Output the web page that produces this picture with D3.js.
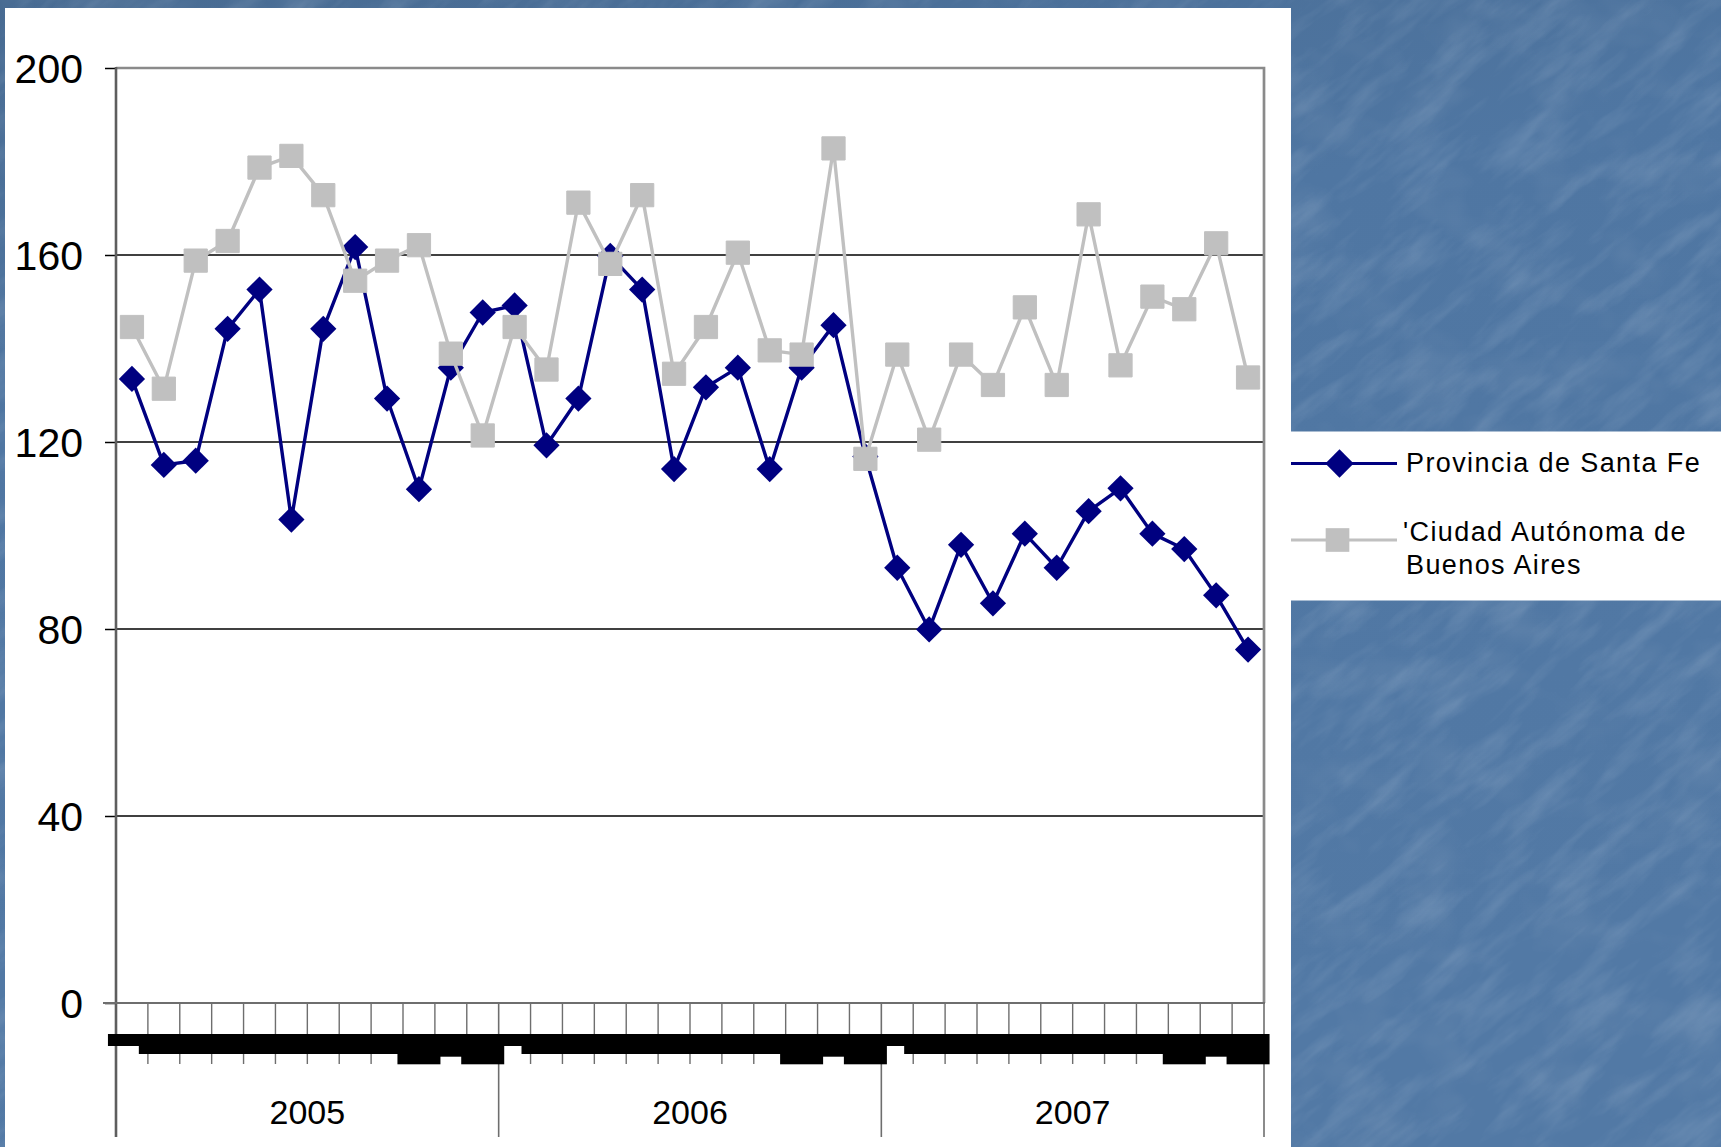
<!DOCTYPE html>
<html>
<head>
<meta charset="utf-8">
<script src="https://cdn.jsdelivr.net/npm/d3@7"></script>
<style>
  html, body { margin: 0; padding: 0; background: #4f75a0; }
  svg { display: block; }
  text { font-family: "Liberation Sans", Arial, sans-serif; fill: #000; }
</style>
</head>
<body>
<svg id="chart" width="1726" height="1147"></svg>
<script>
// Monthly series, January 2005 – December 2007
const years = ["2005", "2006", "2007"];
const monthNames = ["Ene", "Feb", "Mar", "Abr", "May", "Jun", "Jul", "Ago", "Sep", "Oct", "Nov", "Dic"];
const categories = years.flatMap(y => monthNames.map(m => `${m} ${y}`));

const santaFe = [
  133.5, 115.1, 116.0, 144.2, 152.6, 103.4, 144.2, 161.7, 129.3, 109.9, 135.9, 147.7,
  149.2, 119.3, 129.3, 159.8, 152.6, 114.2, 131.7, 135.9, 114.2, 135.9, 145.0, 116.9,
  93.1, 79.9, 98.0, 85.5, 100.4, 93.1, 105.2, 110.1, 100.4, 97.1, 87.2, 75.6
];
const buenosAires = [
  144.6, 131.4, 158.8, 163.0, 178.7, 181.2, 172.8, 154.5, 158.8, 162.1, 138.9, 121.4,
  144.6, 135.5, 171.2, 158.1, 172.8, 134.6, 144.6, 160.5, 139.6, 138.7, 182.8, 116.4,
  138.7, 120.5, 138.7, 132.2, 148.8, 132.2, 168.7, 136.4, 151.1, 148.4, 162.5, 133.8
];
const yTicks = [0, 40, 80, 120, 160, 200];
const seriesNames = ["Provincia de Santa Fe", ["'Ciudad Autónoma de", "Buenos Aires"]];

const W = 1726, H = 1147;
const svg = d3.select("#chart");
const defs = svg.append("defs");

// ---- textured blue backdrop ----
const grad = defs.append("linearGradient").attr("id", "bgGrad")
  .attr("x1", 0).attr("y1", 0).attr("x2", 0.3).attr("y2", 1);
grad.append("stop").attr("offset", 0).attr("stop-color", "#486b92");
grad.append("stop").attr("offset", 0.35).attr("stop-color", "#4f76a2");
grad.append("stop").attr("offset", 1).attr("stop-color", "#5279a5");

const tex = defs.append("filter").attr("id", "streaks")
  .attr("x", 0).attr("y", 0).attr("width", 1).attr("height", 1);
tex.append("feTurbulence").attr("type", "fractalNoise")
  .attr("baseFrequency", "0.05 0.012").attr("numOctaves", 4).attr("seed", 11).attr("result", "n");
tex.append("feColorMatrix").attr("in", "n").attr("type", "matrix")
  .attr("values", "0 0 0 0 0.8  0 0 0 0 0.87  0 0 0 0 0.95  1.8 0 0 0 -0.8");

const tex2 = defs.append("filter").attr("id", "mottle")
  .attr("x", 0).attr("y", 0).attr("width", 1).attr("height", 1);
tex2.append("feTurbulence").attr("type", "fractalNoise")
  .attr("baseFrequency", "0.015 0.02").attr("numOctaves", 3).attr("seed", 3).attr("result", "n");
tex2.append("feColorMatrix").attr("in", "n").attr("type", "matrix")
  .attr("values", "0 0 0 0 0.25  0 0 0 0 0.36  0 0 0 0 0.52  1.6 0 0 0 -0.75");

svg.append("rect").attr("width", W).attr("height", H).attr("fill", "url(#bgGrad)");
defs.append("clipPath").attr("id", "bgClip").append("rect").attr("width", W).attr("height", H);
const texG = svg.append("g").attr("clip-path", "url(#bgClip)");
texG.append("rect").attr("x", -200).attr("y", -200).attr("width", W + 400).attr("height", H + 400)
  .attr("filter", "url(#mottle)").attr("opacity", 0.3);
texG.append("g").attr("transform", `rotate(50 ${W / 2} ${H / 2})`)
  .append("rect").attr("x", -700).attr("y", -700).attr("width", W + 1400).attr("height", H + 1400)
  .attr("filter", "url(#streaks)").attr("opacity", 0.16);

// white chart panel, right edge strip and legend box
svg.append("rect").attr("x", 5).attr("y", 8).attr("width", 1286).attr("height", H - 8).attr("fill", "#fff");
svg.append("rect").attr("x", 1721).attr("y", 0).attr("width", 5).attr("height", H).attr("fill", "#fff");
svg.append("rect").attr("x", 1291).attr("y", 431.5).attr("width", 430).attr("height", 169).attr("fill", "#fff");

// ---- scales ----
const plot = { left: 116, right: 1264, top: 68, bottom: 1003 };
const x = d3.scaleBand().domain(categories).range([plot.left, plot.right]).paddingInner(0).paddingOuter(0);
const y = d3.scaleLinear().domain([0, 200]).range([plot.bottom, plot.top]);
const cx = c => x(c) + x.bandwidth() / 2;

// gridlines
svg.append("g").selectAll("line").data(yTicks.filter(t => t > 0 && t < 200)).join("line")
  .attr("x1", plot.left).attr("x2", plot.right)
  .attr("y1", d => y(d)).attr("y2", d => y(d))
  .attr("stroke", "#000").attr("stroke-width", 1.3);

// plot frame (top and right)
svg.append("path")
  .attr("d", `M${plot.left},${y(200)}H${plot.right}V${plot.bottom}`)
  .attr("fill", "none").attr("stroke", "#8a8a8a").attr("stroke-width", 2.7);

// y axis
const yAxis = d3.axisLeft(y).tickValues(yTicks).tickSize(11).tickPadding(22).tickFormat(d3.format("d"));
const yG = svg.append("g").attr("transform", `translate(${plot.left},0)`).call(yAxis);
yG.select(".domain").remove();
yG.selectAll(".tick line").attr("stroke", "#000").attr("stroke-width", 1.5);
yG.selectAll(".tick text").attr("font-size", 41).attr("dy", "0.35em")
  .attr("font-family", '"Liberation Sans", Arial, sans-serif').attr("fill", "#000");

// left axis line, extended through the date area
svg.append("line").attr("x1", plot.left).attr("x2", plot.left)
  .attr("y1", plot.top - 1).attr("y2", 1137)
  .attr("stroke", "#5e5e5e").attr("stroke-width", 2.6);

// x axis: month boundaries and year separators
const boundaries = d3.range(categories.length + 1);
const bx = i => plot.left + i * x.step();
svg.append("g").selectAll("line").data(boundaries).join("line")
  .attr("x1", bx).attr("x2", bx)
  .attr("y1", plot.bottom)
  .attr("y2", i => (i % 12 === 0 ? 1137 : 1064))
  .attr("stroke", i => (i === 0 ? "none" : "#6e6e6e"))
  .attr("stroke-width", i => (i % 12 === 0 ? 1.6 : 1.4));
svg.append("line").attr("x1", 103).attr("x2", plot.right + 1)
  .attr("y1", plot.bottom).attr("y2", plot.bottom)
  .attr("stroke", "#6e6e6e").attr("stroke-width", 2.2);

// month label blocks
const blockShape = m => {
  if (m === 0) return { w: 48, h: 12 };
  if (m === 9 || m === 11) return { w: 43, h: 30.3 };
  if (m === 10) return { w: 44, h: 22.7 };
  return { w: 50, h: 20 };
};
svg.append("g").selectAll("rect").data(categories).join("rect")
  .attr("x", (c, i) => cx(c) - blockShape(i % 12).w / 2)
  .attr("width", (c, i) => blockShape(i % 12).w)
  .attr("y", 1034)
  .attr("height", (c, i) => blockShape(i % 12).h)
  .attr("fill", "#000");

// year labels
svg.append("g").selectAll("text").data(years).join("text")
  .attr("x", (d, i) => (bx(i * 12) + bx(i * 12 + 12)) / 2)
  .attr("y", 1124)
  .attr("text-anchor", "middle").attr("font-size", 34)
  .text(d => d);

// ---- series ----
const line = d3.line().x((d, i) => cx(categories[i])).y(d => y(d));
const diamond = d3.symbol(d3.symbolSquare, 345);
const square = d3.symbol(d3.symbolSquare, 540);

const navy = "#000080", silver = "#c0c0c0";

svg.append("path").datum(santaFe).attr("d", line)
  .attr("fill", "none").attr("stroke", navy).attr("stroke-width", 3.4).attr("stroke-linejoin", "round");
svg.append("g").selectAll("path").data(santaFe).join("path")
  .attr("d", diamond)
  .attr("transform", (d, i) => `translate(${cx(categories[i])},${y(d)}) rotate(45)`)
  .attr("fill", navy);

svg.append("path").datum(buenosAires).attr("d", line)
  .attr("fill", "none").attr("stroke", silver).attr("stroke-width", 3.4).attr("stroke-linejoin", "round");
svg.append("g").selectAll("path").data(buenosAires).join("path")
  .attr("d", square)
  .attr("transform", (d, i) => `translate(${cx(categories[i])},${y(d)})`)
  .attr("fill", silver).attr("stroke", silver).attr("stroke-width", 1).attr("stroke-linejoin", "round");

// ---- legend ----
const leg = svg.append("g");
leg.append("line").attr("x1", 1291).attr("x2", 1397).attr("y1", 463.5).attr("y2", 463.5)
  .attr("stroke", navy).attr("stroke-width", 3.2);
leg.append("path").attr("d", d3.symbol(d3.symbolSquare, 400))
  .attr("transform", "translate(1339.5,463.5) rotate(45)").attr("fill", navy);
leg.append("text").attr("x", 1406).attr("y", 472).attr("font-size", 27)
  .attr("letter-spacing", 1.4).text(seriesNames[0]);

leg.append("line").attr("x1", 1291).attr("x2", 1397).attr("y1", 540).attr("y2", 540)
  .attr("stroke", silver).attr("stroke-width", 3.2);
leg.append("path").attr("d", d3.symbol(d3.symbolSquare, 560))
  .attr("transform", "translate(1337.5,540)").attr("fill", silver);
const t2 = leg.append("text").attr("font-size", 27).attr("letter-spacing", 1.4);
t2.append("tspan").attr("x", 1403).attr("y", 541).text(seriesNames[1][0]);
t2.append("tspan").attr("x", 1406).attr("y", 574).text(seriesNames[1][1]);
</script>
</body>
</html>
